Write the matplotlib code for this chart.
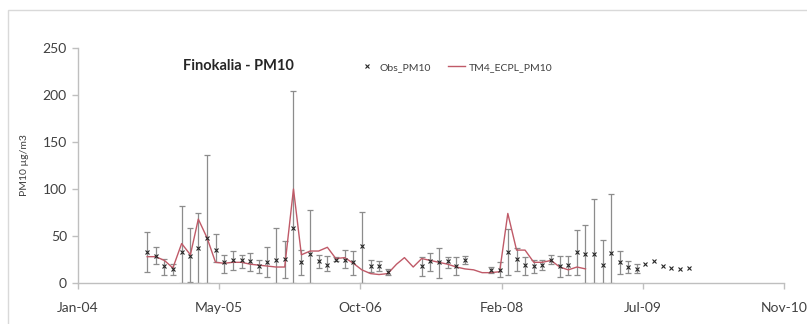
import numpy as np
import matplotlib.pyplot as plt
import matplotlib.dates as mdates
from matplotlib.patches import Rectangle
from datetime import date, timedelta

plt.rcParams['font.family'] = ['Lato', 'DejaVu Sans']

# monthly samples, Sep 2004 .. Dec 2009
months = [date(2004 + (8 + i) // 12, (8 + i) % 12 + 1, 15) for i in range(64)]

# observed PM10 (NaN = no measurement)
obs = [33, 29, 18, 15, 33, 29, 37, 48, 35, 22, 24, 24, 23, 18, 22, 25,
       26, 59, 22, 31, 23, 19, 25, 25, 22, 39, 18, 18, 12,
       np.nan, np.nan, np.nan,
       18, 23, 22, 23, 18, 24,
       np.nan, np.nan,
       14, 14, 33, 26, 19, 18, 19, 25, 18, 19, 33, 31, 31, 19, 32, 22,
       17, 15, 20, 23, 18, 16, 15, 16]
obs_hi = [54, 38, 26, 20, 82, 58, 75, 136, 52, 30, 34, 30, 32, 25, 38, 58,
          45, 204, 35, 78, 30, 29, 28, 35, 34, 76, 24, 23, 15,
          np.nan, np.nan, np.nan,
          28, 32, 37, 28, 28, 29,
          np.nan, np.nan,
          17, 22, 57, 37, 28, 25, 24, 30, 29, 29, 56, 62, 89, 46, 95, 34,
          23, 20, np.nan, np.nan, np.nan, np.nan, np.nan, np.nan]
obs_lo = [12, 20, 8, 8, 0, 1, 0, 0, 22, 11, 14, 16, 13, 11, 6, 0,
          5, 0, 8, 0, 16, 13, 23, 16, 8, 0, 12, 13, 9,
          np.nan, np.nan, np.nan,
          7, 13, 5, 16, 9, 20,
          np.nan, np.nan,
          11, 6, 8, 13, 9, 11, 14, 20, 6, 8, 9, 0, 0, 0, 0, 10,
          11, 11, np.nan, np.nan, np.nan, np.nan, np.nan, np.nan]

# TM4-ECPL model, Sep 2004 .. Dec 2008
model = [28, 28, 24, 16, 42, 30, 68, 48, 22, 21, 22, 22, 20, 19, 18, 17,
         17, 100, 30, 34, 34, 38, 26, 27, 21, 14, 10, 9, 10,
         20, 27, 17,
         26, 24, 22, 20, 17, 15, 14, 11,
         11, 12, 74, 35, 35, 22, 22, 24, 17, 14, 17, 15]

obs = np.array(obs, float)
obs_hi = np.array(obs_hi, float)
obs_lo = np.array(obs_lo, float)
yerr = [obs - obs_lo, obs_hi - obs]

fig = plt.figure(figsize=(8.07, 3.24), dpi=100)
fig.patches.append(Rectangle((8 / 807, -0.1), 1.1, 1 - 10 / 324 + 0.1,
                             transform=fig.transFigure, fill=False,
                             edgecolor='#d9d9d9', linewidth=1))
ax = fig.add_axes([78 / 807, 1 - 283 / 324, (784 - 78) / 807, (283 - 48) / 324])

x_obs = mdates.date2num(months)
x_mod = x_obs[:len(model)]

ax.errorbar(x_obs, obs, yerr=yerr, fmt='none', ecolor='#8c8c8c',
            elinewidth=0.9, capsize=2.2, capthick=0.9, zorder=2)
ax.plot(x_mod, model, color='#c05a68', linewidth=1, zorder=3,
        label='TM4_ECPL_PM10')
ax.plot(x_obs, obs, linestyle='none', marker='x', color='#262626',
        markersize=3.5, markeredgewidth=0.8, zorder=4, label='Obs_PM10')

# date axis: Excel serial 38000 .. 40500, major unit 500 days
start = date(2004, 1, 14)
ticks = [mdates.date2num(start + timedelta(days=500 * k)) for k in range(6)]
ax.set_xlim(ticks[0], ticks[-1])
ax.set_xticks(ticks)
ax.xaxis.set_major_formatter(mdates.DateFormatter('%b-%y'))
ax.set_ylim(0, 250)
ax.set_yticks(range(0, 251, 50))

for side in ['top', 'right']:
    ax.spines[side].set_visible(False)
for side in ['left', 'bottom']:
    ax.spines[side].set_color('#bfbfbf')
    ax.spines[side].set_linewidth(1)
ax.tick_params(axis='both', colors='#bfbfbf', labelcolor='#404040',
               labelsize=10, length=4, width=1)
ax.tick_params(axis='x', pad=10)
ax.tick_params(axis='y', pad=4)

ax.set_ylabel('PM10 µg/m3', fontsize=7.5, color='#404040', labelpad=10)

ax.text(0.227, 0.925, 'Finokalia - PM10', transform=ax.transAxes,
        fontsize=10.5, fontweight='bold', color='#262626', ha='center', va='center')

handles, labels = ax.get_legend_handles_labels()
leg = ax.legend(handles[::-1], labels[::-1], ncol=2, frameon=False,
                fontsize=7.5, loc='center', bbox_to_anchor=(0.535, 0.919),
                handlelength=1.6, columnspacing=1.6, handletextpad=0.4)
for t in leg.get_texts():
    t.set_color('#404040')

fig.savefig('out.png', dpi=100)
